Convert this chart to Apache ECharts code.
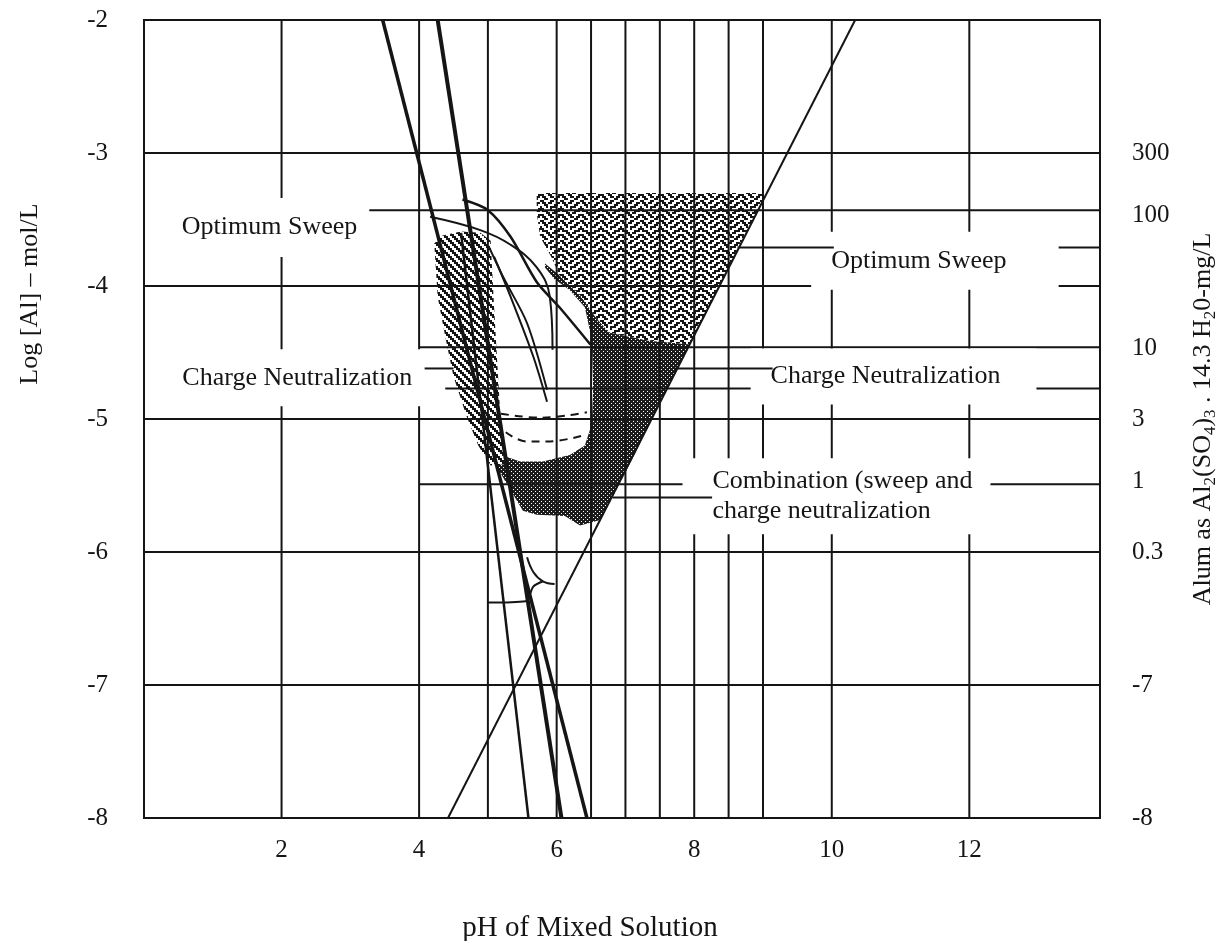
<!DOCTYPE html>
<html><head><meta charset="utf-8">
<script src="https://cdn.jsdelivr.net/npm/echarts@6/dist/echarts.min.js"></script>
<style>html,body{margin:0;padding:0;background:#fff}#c{width:1220px;height:941px}</style>
</head><body><div id="c"></div>
<script>
// ---------------- data ----------------
const xTickLabels = [2, 4, 6, 8, 10, 12];
const yTickLabels = [-2, -3, -4, -5, -6, -7, -8];
const alumLogValues = [-3, -3.47, -4.47, -5, -5.47, -6, -7, -8];
const alumLabels = ['300', '100', '10', '3', '1', '0.3', '-7', '-8'];
const gridPH = [2, 4, 5, 6, 6.5, 7, 7.5, 8, 8.5, 9, 10, 12];
const gridLog = [-3, -4, -5, -6, -7];
// horizontal rules: [pH from, pH to, log Al]
const alumRules = [
  [3.23, 13.9, -3.43],
  [10.03, 13.9, -3.71],
  [4.0, 13.9, -4.46],
  [4.38, 13.9, -4.77],
  [4.0, 13.9, -5.49]
];
const leaderRules = [
  [8.63, 10.03, -3.71],
  [4.08, 4.50, -4.62],
  [7.71, 9.14, -4.62],
  [6.81, 8.26, -5.59]
];
const aluminateLine = [[4.42, -8], [10.34, -2]];
const solubilityA = [[3.47, -2], [6.44, -8]];
const solubilityB = [[4.27, -2], [6.07, -8]];
const solubilityC = [[4.61, -3.6], [5.59, -8]];
const curveA = [[4.16, -3.48], [4.89, -3.58], [5.33, -3.69], [5.71, -3.86], [5.90, -4.08], [5.94, -4.48]];
const curveB = [[4.63, -3.35], [5.00, -3.43], [5.33, -3.63], [5.71, -3.97], [6.04, -4.16], [6.49, -4.44]];
const curveC = [[5.01, -3.70], [5.23, -3.94], [5.57, -4.28], [5.86, -4.78]];
const curveD = [[5.09, -3.78], [5.33, -4.08], [5.66, -4.53], [5.86, -4.87]];
const lowerCurve1 = [[5.57, -6.04], [5.66, -6.15], [5.80, -6.22], [5.97, -6.24]];
const lowerCurve2 = [[5.00, -6.38], [5.55, -6.37], [5.66, -6.26], [5.80, -6.22]];
const dashedUpper = [[5.19, -4.96], [5.76, -4.99], [6.44, -4.95]];
const dashedLower = [[5.26, -5.10], [5.57, -5.17], [5.86, -5.17], [6.41, -5.12]];
const sweepZone = [[5.71, -3.30], [9.06, -3.30], [8.63, -3.72], [8.37, -4.00], [7.94, -4.44], [7.33, -4.41],
  [6.76, -4.35], [6.56, -4.23], [6.34, -4.07], [6.04, -3.92], [5.93, -3.79], [5.76, -3.63], [5.71, -3.45]];
const chargeZone = [[4.22, -3.68], [4.34, -3.62], [4.61, -3.59], [4.89, -3.60], [5.04, -3.66], [5.09, -4.16],
  [5.14, -4.61], [5.19, -5.06], [5.24, -5.34], [5.04, -5.35], [4.86, -5.20], [4.69, -4.98], [4.50, -4.68],
  [4.38, -4.38], [4.27, -4.08]];
const combinationZone = [[5.83, -3.83], [6.04, -3.92], [6.34, -4.07], [6.56, -4.23], [6.76, -4.35], [7.33, -4.41],
  [7.94, -4.44], [7.47, -4.91], [7.13, -5.27], [6.78, -5.62], [6.63, -5.76], [6.34, -5.80], [6.12, -5.73],
  [5.71, -5.72], [5.51, -5.69], [5.29, -5.50], [5.04, -5.28], [5.04, -5.20], [5.19, -5.27], [5.47, -5.32],
  [5.80, -5.32], [6.19, -5.27], [6.41, -5.20], [6.51, -5.04], [6.53, -4.77], [6.51, -4.40], [6.41, -4.16],
  [6.19, -4.03], [5.97, -3.95], [5.83, -3.86]];
const zoneLabels = ['Optimum Sweep', 'Charge Neutralization', 'Optimum Sweep', 'Charge Neutralization',
  'Combination (sweep and\ncharge neutralization'];
// left edge / vertical centre of each label's white box
const zoneLabelAnchors = [[0.23, -3.56], [0.31, -4.69], [9.7, -3.81], [8.82, -4.68], [7.83, -5.58]];

// ---------------- styles ----------------
const SERIF = 'Liberation Serif, Times New Roman, serif';
const INK = '#151515';
const labelBoxPadding = [[14, 12, 15, 22], [10, 13, 17, 17], [13, 52, 15, 20], [8, 36, 18, 20], [8, 18, 8, 30]];

function makePattern(rows, ink, paper, scale) {
  const h = rows.length, w = rows[0].length;
  const c = document.createElement('canvas');
  c.width = w * scale; c.height = h * scale;
  const g = c.getContext('2d');
  g.fillStyle = paper; g.fillRect(0, 0, c.width, c.height);
  g.fillStyle = ink;
  rows.forEach((r, y) => { for (let x = 0; x < w; x++) if (r[x] === '1') g.fillRect(x * scale, y * scale, scale, scale); });
  return { image: c, repeat: 'repeat' };
}
const sweepFill = makePattern([
  '1100011000', '0110110011', '0011000110', '1001011100', '1100010001',
  '0111000111', '0001101100', '1100110001', '0110011011', '0011000110'], INK, '#fff', 2);
const hatchFill = makePattern(['1100', '0110', '0011', '1001'], INK, '#fff', 2);
const darkFill = makePattern(['1111', '1011', '1111', '1110'], '#1c1c1c', '#fff', 1);

function polySeries(points, fill) {
  return {
    type: 'custom', coordinateSystem: 'cartesian2d', z: 1, silent: true, clip: true,
    data: points,
    renderItem: (params, api) => params.dataIndex === 0 ? {
      type: 'polygon',
      shape: { points: points.map(p => api.coord(p)) },
      style: { fill: fill, stroke: null }
    } : null
  };
}
function ruleSeries(rows, z) {
  return {
    type: 'custom', coordinateSystem: 'cartesian2d', z: z, silent: true,
    data: rows, encode: { x: [0, 2], y: [1, 3] },
    renderItem: (params, api) => {
      const a = api.coord([api.value(0), api.value(1)]);
      const b = api.coord([api.value(2), api.value(3)]);
      return { type: 'line', shape: { x1: a[0], y1: a[1], x2: b[0], y2: b[1] }, style: { stroke: INK, lineWidth: 2 } };
    }
  };
}
function lineSeries(points, width, opts) {
  return Object.assign({
    type: 'line', data: points, z: 4, silent: true, showSymbol: false, symbol: 'none',
    lineStyle: { color: INK, width: width }
  }, opts || {});
}

const ruleRows = [].concat(
  gridPH.map(p => [p, -8, p, -2]),
  gridLog.map(l => [0, l, 13.9, l]),
  alumRules.map(r => [r[0], r[2], r[1], r[2]])
);
const leaderRows = leaderRules.map(r => [r[0], r[2], r[1], r[2]]);

const chart = echarts.init(document.getElementById('c'), null, { renderer: 'canvas' });
chart.setOption({
  animation: false,
  backgroundColor: '#fff',
  grid: { left: 144, right: 120, top: 20, bottom: 123, outerBoundsMode: 'none', containLabel: false,
    show: true, borderColor: INK, borderWidth: 2, backgroundColor: 'transparent' },
  xAxis: {
    type: 'value', min: 0, max: 13.9, interval: 2,
    axisLine: { show: false }, axisTick: { show: false }, splitLine: { show: false },
    axisLabel: { customValues: xTickLabels, margin: 20, fontFamily: SERIF, fontSize: 25, color: INK },
    name: 'pH of Mixed Solution', nameLocation: 'middle', nameGap: 96,
    nameTextStyle: { fontFamily: SERIF, fontSize: 29, color: INK, padding: [0, 64, 0, 0] }
  },
  yAxis: [{
    type: 'value', min: -8, max: -2, interval: 1, position: 'left',
    axisLine: { show: false }, axisTick: { show: false }, splitLine: { show: false },
    axisLabel: { customValues: yTickLabels, margin: 36, fontFamily: SERIF, fontSize: 25, color: INK },
    name: 'Log [Al] – mol/L', nameLocation: 'middle', nameGap: 101,
    nameTextStyle: { fontFamily: SERIF, fontSize: 26, color: INK, padding: [0, 0, 0, 250] }
  }, {
    type: 'value', min: -8, max: -2, interval: 1, position: 'right',
    axisLine: { show: false }, axisTick: { show: false }, splitLine: { show: false },
    axisLabel: {
      customValues: alumLogValues, margin: 32, fontFamily: SERIF, fontSize: 25, color: INK,
      formatter: v => { const i = alumLogValues.findIndex(a => Math.abs(a - v) < 1e-6); return i >= 0 ? alumLabels[i] : ''; }
    },
    name: 'Alum as Al{s|2}(SO{s|4}){s|3} . 14.3 H{s|2}0-mg/L', nameLocation: 'middle', nameGap: 88,
    nameTextStyle: {
      fontFamily: SERIF, fontSize: 26, color: INK,
      rich: { s: { fontFamily: SERIF, fontSize: 17, color: INK, padding: [14, 0, 0, 0] } }
    }
  }],
  series: [
    polySeries(combinationZone, darkFill),
    polySeries(sweepZone, sweepFill),
    polySeries(chargeZone, hatchFill),
    ruleSeries(ruleRows, 3),
    lineSeries(aluminateLine, 2),
    lineSeries(solubilityA, 3.5),
    lineSeries(solubilityB, 4),
    lineSeries(solubilityC, 2.5),
    lineSeries(curveA, 2, { smooth: 0.4 }),
    lineSeries(curveB, 2.5, { smooth: 0.3 }),
    lineSeries(curveC, 2, { smooth: 0.3 }),
    lineSeries(curveD, 2, { smooth: 0.3 }),
    lineSeries(lowerCurve1, 2, { smooth: 0.4 }),
    lineSeries(lowerCurve2, 2, { smooth: 0.3 }),
    lineSeries(dashedUpper, 2, { smooth: 0.4, lineStyle: { color: INK, width: 2, type: [8, 6] } }),
    lineSeries(dashedLower, 2, { smooth: 0.4, lineStyle: { color: INK, width: 2, type: [8, 6] } }),
    {
      type: 'scatter', z: 10, silent: true, clip: false, symbolSize: 1,
      itemStyle: { color: 'rgba(0,0,0,0)', opacity: 1 },
      data: zoneLabelAnchors.map((p, i) => ({ value: p, label: { padding: labelBoxPadding[i] } })),
      label: {
        show: true, position: 'inside', align: 'left', verticalAlign: 'middle', opacity: 1,
        formatter: p => zoneLabels[p.dataIndex],
        fontFamily: SERIF, fontSize: 26, lineHeight: 30, color: INK, backgroundColor: '#fff'
      }
    },
    ruleSeries(leaderRows, 11)
  ]
});
</script></body></html>
